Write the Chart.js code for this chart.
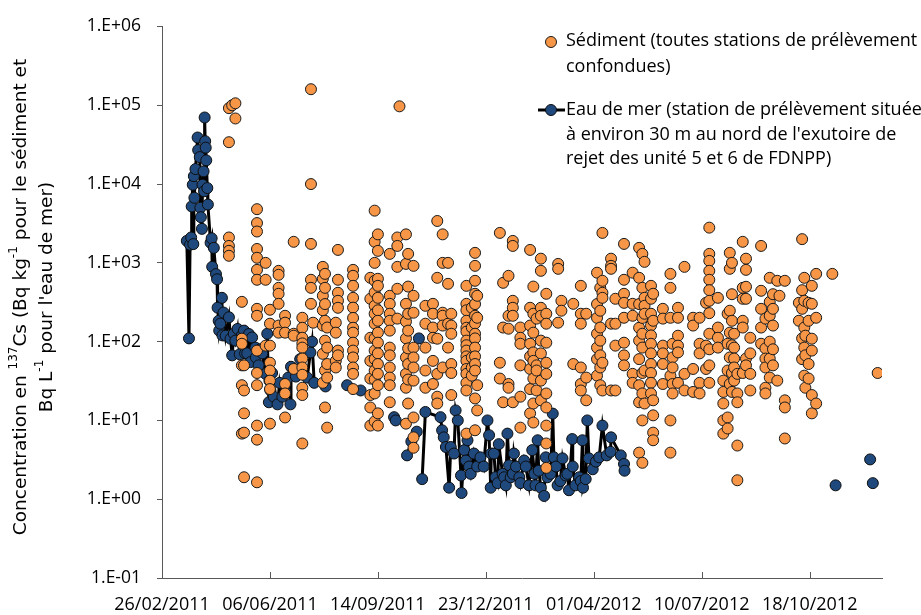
<!DOCTYPE html>
<html>
<head>
<meta charset="utf-8">
<script src="https://cdn.jsdelivr.net/npm/chart.js@4.4.1/dist/chart.umd.min.js"></script>
<style>
  body { margin: 0; background: #fff; }
</style>
</head>
<body>
<canvas id="chart" width="921" height="615"></canvas>
<script>
// x values are days since 26/02/2011 (first tick)
const startDate = Date.UTC(2011, 1, 26);
const xTicks = [0, 100, 200, 300, 400, 500, 600];
const yTicks = [0.1, 1, 10, 100, 1000, 10000, 100000, 1000000];

// sediment: one entry per sampling date, all stations together
const sedDays = [62, 65, 68, 74, 76, 88, 96, 100, 108, 114, 122, 130, 138, 140, 149, 151, 153, 161, 163, 177, 193,
  197, 200, 211, 218, 220, 226, 228, 233, 244, 251, 255, 260, 265, 268, 282, 287, 290, 292, 313, 316, 321, 325,
  332, 341, 344, 347, 351, 356, 367, 370, 381, 388, 393, 403, 406, 408, 416, 420, 428, 436, 442, 445, 447, 453, 455,
  464, 471, 473, 478, 484, 492, 498, 504, 507, 515, 520, 524, 526, 528, 530, 533, 538, 541, 545, 555, 559,
  563, 566, 570, 572, 577, 590, 593, 595, 596, 599, 602, 606, 621, 663];
const sedValues = [
  [92000, 34000, 2100, 1640, 1420, 1230],
  [100000],
  [106000, 68000],
  [320, 109, 94, 50, 28, 6.8],
  [50, 24, 12.3, 7.0, 1.9],
  [4800, 3200, 2500, 1500, 1160, 815, 610, 261, 213, 77, 40, 28, 8.6, 5.7, 1.64],
  [1000, 610, 89],
  [254, 169, 89, 54, 43, 32, 25, 9.1],
  [792, 705, 482, 405, 302, 160, 130],
  [213, 174, 130, 29, 22, 10.9],
  [1850, 126, 119, 45],
  [201, 150, 112, 95, 84, 61, 47, 38, 26, 21, 5.1],
  [160000, 10000, 1740, 610, 482, 302],
  [174],
  [890, 628, 382, 250, 160, 70, 30],
  [725, 482, 300, 184, 103, 43, 14.6],
  [151, 84, 52, 35, 8.1],
  [174, 130, 57, 47],
  [1460, 610, 417, 330, 269, 77, 67],
  [815, 685, 511, 360, 270, 200, 150, 130, 97, 77, 63, 47, 39, 25],
  [646, 350, 112, 57, 34, 21, 14.6, 8.6],
  [4600, 1850, 1000, 592, 420, 285, 226, 169, 110, 77, 60, 43, 33, 22, 9.7],
  [2300, 1420, 628, 511, 360, 250, 184, 130, 97, 71, 52, 39, 28, 12.3, 8.6],
  [1300, 382, 302, 226, 184, 138, 84, 67, 47, 35, 28, 17],
  [2100, 1640, 890, 469, 196],
  [97000],
  [2300, 970, 302, 180, 110, 63, 39, 26, 9.1],
  [1300, 500, 226, 138, 82, 52, 33, 16.4],
  [916, 382, 233, 84, 63, 47, 32, 10.9, 6.1, 4.5],
  [285, 169, 84, 43, 26],
  [302, 226, 151, 112, 57, 29],
  [3400, 646, 109, 39, 20, 16.4],
  [2300, 1000, 233, 213, 160, 47],
  [1000, 542, 169, 84],
  [226, 160, 126, 52, 40, 21],
  [511, 302, 250, 184, 150, 134, 103, 90, 77, 65, 57, 45, 39, 30, 24, 6.8],
  [269, 151, 63, 47, 37],
  [1340, 916, 592, 405, 300, 213, 170, 126, 110, 84, 65, 52, 43, 19, 7.5],
  [382, 201, 28, 13.4],
  [2400, 54, 34],
  [558, 151, 17],
  [685, 213, 146, 29, 26],
  [1900, 1640, 330, 269, 213, 17],
  [151, 112, 94, 50, 20, 8.1],
  [1460, 269, 160, 94, 65, 45, 25, 12.3],
  [500, 226, 130, 73, 57, 34, 16.4, 9.4],
  [196, 50, 43, 24],
  [1130, 792, 269, 213, 103, 71, 32, 18],
  [405, 226, 169, 97, 54, 39, 22, 14.6, 8.6, 5.1, 2.5],
  [970, 840, 174],
  [330, 247],
  [302, 52],
  [511, 226, 169, 47, 29, 24],
  [226, 35, 18],
  [750, 300, 200, 126, 84, 60, 37],
  [482, 247, 151, 103, 67, 47, 28],
  [2400, 592, 417, 360, 54, 24],
  [1130, 916, 840, 169, 24],
  [350, 169, 89, 24],
  [1740, 610, 405, 311, 201, 97, 67, 50],
  [750, 302, 213, 39, 30],
  [1550, 646, 300, 150, 103, 60, 28, 17, 3.9],
  [1300, 482, 200, 126, 84, 40, 22, 10, 2.9],
  [1030, 360, 285, 226, 43, 16.4],
  [511, 350, 226, 160, 120, 94, 71, 52, 40, 30, 22],
  [405, 184, 18, 11.6, 7.0, 5.6],
  [261, 196, 89, 71, 52, 29],
  [725, 482, 201, 37, 10, 3.9],
  [94, 63, 47, 29, 22],
  [269, 201, 119, 89, 73, 30],
  [890, 39, 24],
  [201, 160, 45, 23],
  [201, 94, 71, 30, 22],
  [311, 89, 45],
  [2800, 1300, 1060, 792, 610, 450, 330, 230, 126, 80, 50, 30],
  [360, 151, 112, 84],
  [32, 23, 16.4, 10, 6.8],
  [226, 94, 43, 10.9, 7.9],
  [1340, 840, 247, 130, 63, 29],
  [1000, 400, 184, 90, 40, 23],
  [126, 84, 61, 47, 32],
  [39, 22, 17, 4.8, 1.74],
  [1850, 482, 350, 184, 151, 40],
  [1130, 815, 497, 350, 61, 50],
  [112, 71, 39, 24],
  [1640, 442, 261, 151, 94],
  [196, 82, 61, 47, 26, 22],
  [646, 320, 213, 100, 61, 35],
  [400, 261, 160, 80, 50],
  [592, 32],
  [382],
  [592, 18, 14.6, 5.9],
  [311, 184],
  [2000, 450, 261, 110, 60],
  [646, 330, 151, 84, 37],
  [119, 67, 26],
  [311, 184, 52, 34],
  [511, 302, 109, 77, 21, 12.3],
  [725, 201, 16.4],
  [725],
  [40]
];

// seawater near the unit 5/6 outlet (null = break in the line)
const seaDays = [23, 25, 26, 27, 27.5, 28.5, 29, 29.5, 30, 31, 33, 33.5, 35, 35.5, 36, 37, 37.5, 38.5, 39, 39.5,
  40, 40.5, 41, 42, 42.5, 45, 46, 46.5, 48, 50, 51, 51.5, 52.5, 53, 54, 55.5, 56, 57, 59, 62,
  63.5, 65, 66.5, 68, 70, 72, 74, 76, 77, 79, 80.5, 82, 83.5, 86.5, 87, 89.5, 91, 93, 96, 97.5,
  99, 99.5, 100.5, 102, 103.5, 107, 109, 111.5, 114.5, 117, 119, 119.5, 124, 128, 134.5, 137.5, 139, 141, 145,
  151.5, 160, 171.5, 178, 184, 200, 215, 216.5, 220, 227, 231, 236, 237, 238, 239.5,
  241, 244, 258, 259.5, 261, 263, 266, 267.5, 270.5, 272, 274, 277, 277.5, 280, 281.5, 283, 284.5, 286, 289, 292,
  295, 298, 301.5, 303, 304.5, 305, 307.5, 309, 311, 312, 315.5, 317, 318.5, 320, 321.5, 323, 325, 326, 328, 331,
  332, 335.5, 337, 340, 343, 345, 346, 348, 349, 351, 354, 355.5, 357, 360, 362, 363, 365, 366.5, 369, 371,
  374, 375.5, 377, 380, 380.5, 383, 386.5, 388, 389.5, 390, 392.5, 394, 395.5, 399, 402, 405, 408, 412, 415.5, 416,
  425, 428, 428.5, 500, 624, 640, 656, 657, 658.5];
const seaValues = [1900, 110, 1700, 2100, 5200, 9800, 1730, 12600, 6700, 15500, 39000, 27000, 22000, 5000, 3800, 2700, 9800, 14500, 8100, 70000,
  35000, 29000, 20000, 8900, 5500, 1800, 2050, 890, 1550, 720, 620, 270, 184, 138, 169, 360, 120, 234, 119, 204,
  109, 67, 126, 103, 145, 69, 120, 138, 71, 71, 125, 55, 113, 84, 63, 50, 80, 71, 39, 126,
  17, 32, 24, 40, 20, 16, 30, 20, 23, 35, 16, 48, 36, 60, 35, 73, 100, 30, null,
  27, null, 28, null, 24, null, 11, 10, null, 3.6, 5.4, 7.2, null, 110, null,
  1.8, 12.8, 11, 7.5, 6.1, 4.6, 1.4, 4.6, 3.8, 13.4, 10, 2.0, 1.2, 4.2, 3.1, 5.6, 2.6, 2.1, 3.8, 2.6,
  3.4, 2.6, 10, 6.5, 1.4, 3.8, 3.8, 1.9, 1.6, 5.0, 2.1, 1.9, 1.5, 6.8, 2.7, 1.9, 2.1, 3.8, 2.6, 1.9,
  1.6, 3.1, 2.6, 1.5, 4.2, 2.1, 1.5, 5.6, 2.3, 1.4, 1.1, 3.4, 1.9, 2.1, 12.2, 3.4, 2.6, 1.5, 1.7, 3.3,
  2.0, 2.1, 1.3, 5.8, 2.6, 1.5, 1.9, 1.7, 5.6, 1.4, 1.8, 10, 3.3, 2.4, 3.0, 3.4, 8.6, 3.6, 4.0, 6.1,
  3.6, 2.8, 2.3, null, 1.5, null, 3.2, null, 1.6];

const sedPoints = [];
sedDays.forEach((d, i) => sedValues[i].forEach(v => sedPoints.push({ x: d, y: v })));
const seaPoints = seaDays.map((d, i) => ({ x: d, y: seaValues[i] }));

const ORANGE = '#F79646';
const NAVY = '#1F497D';
const AXIS = '#595959';
const tickFont = { family: 'Open Sans', size: 18 };

function formatDate(days) {
  const dt = new Date(startDate + days * 86400000);
  const dd = String(dt.getUTCDate()).padStart(2, '0');
  const mm = String(dt.getUTCMonth() + 1).padStart(2, '0');
  return dd + '/' + mm + '/' + dt.getUTCFullYear();
}

function formatPow(v) {
  const e = Math.round(Math.log10(v));
  return '1.E' + (e < 0 ? '-' : '+') + String(Math.abs(e)).padStart(2, '0');
}

// draws a run of text pieces, some raised as superscripts
function drawRuns(ctx, runs, x, y, size, align) {
  const big = size + 'px "DejaVu Sans"';
  const small = Math.round(size * 0.65) + 'px "DejaVu Sans"';
  let total = 0;
  runs.forEach(r => { ctx.font = r.sup ? small : big; total += ctx.measureText(r.t).width; });
  let cx = align === 'center' ? x - total / 2 : x;
  runs.forEach(r => {
    ctx.font = r.sup ? small : big;
    ctx.fillText(r.t, cx, r.sup ? y - size * 0.38 : y);
    cx += ctx.measureText(r.t).width;
  });
}

const decorations = {
  id: 'decorations',
  afterDraw(chart) {
    const ctx = chart.ctx;
    const xs = chart.scales.x;
    const area = chart.chartArea;
    ctx.save();

    // inward tick marks on the date axis
    ctx.strokeStyle = AXIS;
    ctx.lineWidth = 1;
    xTicks.slice(1).forEach(t => {
      const px = Math.round(xs.getPixelForValue(t)) + 0.5;
      ctx.beginPath();
      ctx.moveTo(px, area.bottom);
      ctx.lineTo(px, area.bottom - 6);
      ctx.stroke();
    });

    // y axis title, two lines with superscripts
    ctx.fillStyle = '#000';
    ctx.textBaseline = 'middle';
    ctx.save();
    ctx.translate(21, 297);
    ctx.rotate(-Math.PI / 2);
    drawRuns(ctx, [
      { t: 'Concentration en ' }, { t: '137', sup: true }, { t: 'Cs (Bq kg' }, { t: '-1', sup: true },
      { t: ' pour le sédiment et' }
    ], 0, 0, 18.5, 'center');
    ctx.restore();
    ctx.save();
    ctx.translate(47, 297);
    ctx.rotate(-Math.PI / 2);
    drawRuns(ctx, [{ t: 'Bq L' }, { t: '-1', sup: true }, { t: " pour l'eau de mer)" }], 0, 0, 18.5, 'center');
    ctx.restore();

    // legend
    ctx.font = '18px "Open Sans"';
    ctx.textAlign = 'left';
    ctx.lineWidth = 1;
    ctx.strokeStyle = '#1a1a1a';
    ctx.fillStyle = ORANGE;
    ctx.beginPath();
    ctx.arc(551, 42, 5.5, 0, Math.PI * 2);
    ctx.fill();
    ctx.stroke();
    ctx.fillStyle = '#000';
    ctx.fillText('Sédiment (toutes stations de prélèvement', 566, 41);
    ctx.fillText('confondues)', 566, 67);

    ctx.lineWidth = 3;
    ctx.strokeStyle = '#000';
    ctx.beginPath();
    ctx.moveTo(538, 110);
    ctx.lineTo(565, 110);
    ctx.stroke();
    ctx.lineWidth = 1;
    ctx.strokeStyle = '#0d0d0d';
    ctx.fillStyle = NAVY;
    ctx.beginPath();
    ctx.arc(551, 110, 5.5, 0, Math.PI * 2);
    ctx.fill();
    ctx.stroke();
    ctx.fillStyle = '#000';
    ctx.fillText('Eau de mer (station de prélèvement située', 566, 110);
    ctx.fillText("à environ 30 m au nord de l'exutoire de", 566, 135);
    ctx.fillText('rejet des unité 5 et 6 de FDNPP)', 566, 159);
    ctx.restore();
  }
};

new Chart(document.getElementById('chart'), {
  type: 'scatter',
  data: {
    datasets: [{
      label: 'Sédiment (toutes stations de prélèvement confondues)',
      data: sedPoints,
      showLine: false,
      pointRadius: 5.5,
      pointBackgroundColor: ORANGE,
      pointBorderColor: '#1a1a1a',
      pointBorderWidth: 1
    }, {
      label: 'Eau de mer',
      data: seaPoints,
      showLine: true,
      spanGaps: false,
      borderColor: '#000',
      borderWidth: 3,
      pointRadius: 5.5,
      pointBackgroundColor: NAVY,
      pointBorderColor: '#0d0d0d',
      pointBorderWidth: 1
    }]
  },
  options: {
    responsive: false,
    animation: false,
    devicePixelRatio: 1,
    layout: { padding: { top: 25, right: 39, left: 0, bottom: 0 } },
    plugins: { legend: { display: false }, tooltip: { enabled: false } },
    scales: {
      x: {
        type: 'linear',
        min: 0,
        max: 667,
        afterBuildTicks: scale => { scale.ticks = xTicks.map(v => ({ value: v })); },
        afterFit: scale => { scale.height = 37; },
        grid: { display: false },
        border: { display: true, color: AXIS, width: 1 },
        ticks: { font: tickFont, color: '#000', padding: 8, maxRotation: 0, callback: v => formatDate(v) }
      },
      y: {
        type: 'logarithmic',
        min: 0.1,
        max: 1000000,
        afterBuildTicks: scale => { scale.ticks = yTicks.map(v => ({ value: v })); },
        afterFit: scale => { scale.width = 162; },
        grid: { display: true, drawOnChartArea: false, drawTicks: true, tickLength: 5, color: AXIS },
        border: { display: true, color: AXIS, width: 1 },
        ticks: { font: { family: 'Open Sans', size: 17.5 }, color: '#000', padding: 16, callback: v => formatPow(v) }
      }
    }
  },
  plugins: [decorations]
});
</script>
</body>
</html>
